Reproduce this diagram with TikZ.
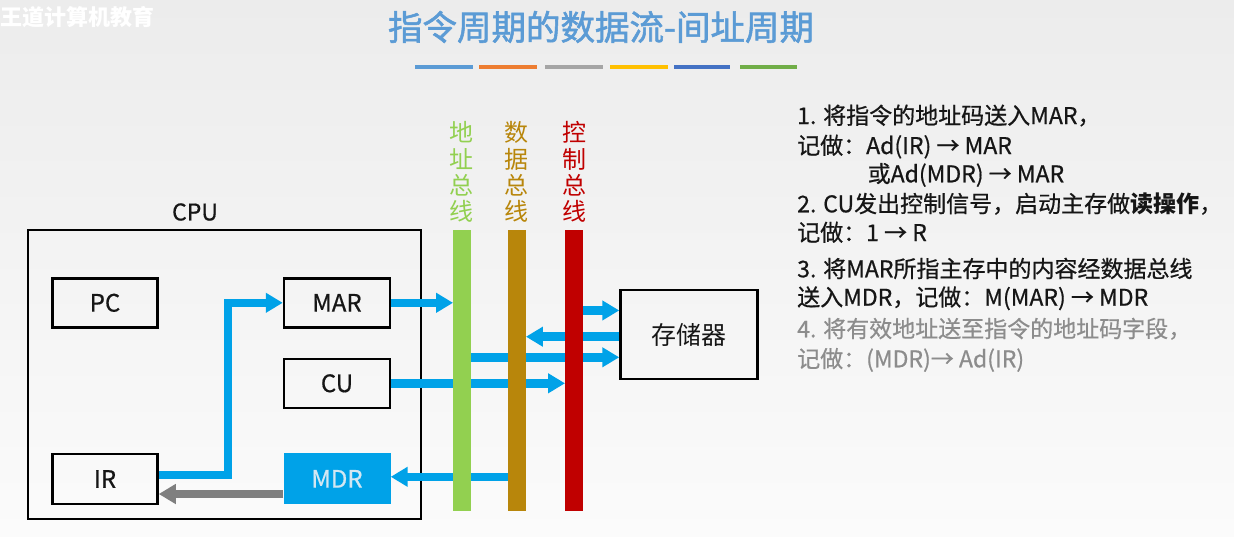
\documentclass[tikz,border=0pt]{standalone}
\usepackage{fontspec}
\setmainfont{Noto Sans CJK SC}
\newfontfamily\titlefont[FakeBold=1.6]{Noto Sans CJK SC}
\newfontfamily\bodyfont[FakeBold=0.6]{Noto Sans CJK SC}
\usetikzlibrary{arrows.meta,calc}
\definecolor{arrowblue}{HTML}{00A2E8}
\definecolor{titleblue}{HTML}{5B9BD5}
\definecolor{busgreen}{HTML}{92D050}
\definecolor{busbrown}{HTML}{B8860B}
\definecolor{busred}{HTML}{C00000}
\definecolor{textdark}{HTML}{161616}
\definecolor{textgray}{HTML}{8C8C8C}
\definecolor{flowgray}{HTML}{7F7F7F}
\definecolor{mdrtext}{HTML}{D3E7F2}
\definecolor{bgtop}{HTML}{ECECEC}
\definecolor{bgbot}{HTML}{FBFBFB}
\definecolor{ulblue}{HTML}{5B9BD5}
\definecolor{ulorange}{HTML}{ED7D31}
\definecolor{ulgray}{HTML}{A5A5A5}
\definecolor{ulyellow}{HTML}{FFC000}
\definecolor{uldblue}{HTML}{4472C4}
\definecolor{ulgreen}{HTML}{70AD47}
\tikzset{
  reg/.style={draw=black, line width=2.5pt, minimum width=105pt, minimum height=49pt,
    inner sep=0pt, font=\bodyfont\fontsize{24}{28}\selectfont, text=textdark},
  flow/.style={line width=8.5pt, draw=arrowblue, line cap=butt, miter limit=10,
    -{Triangle[length=17pt,width=19pt]}},
  grayflow/.style={flow, draw=flowgray},
  txt/.style={anchor=base west, inner sep=0pt, font=\bodyfont\fontsize{23}{27}\selectfont, text=textdark},
  graytxt/.style={txt, text=textgray},
  busbar/.style={draw=none, minimum width=17.5pt, minimum height=281pt, inner sep=0pt},
  buslabel/.style={align=center, inner sep=0pt, font=\fontsize{24}{26.3}\selectfont},
  ul/.style={line width=4.5pt}
}
\begin{document}
\begin{tikzpicture}[x=1pt,y=-1pt]
\shade[top color=bgtop, bottom color=bgbot] (0,0) rectangle (1234,536);
\useasboundingbox (0,0) rectangle (1234,536);

% watermark and title
\node[anchor=west, inner sep=0pt, text=white, font=\fontsize{22}{24}\selectfont\bfseries] (wm) at (0,17) {王道计算机教育};
\node[inner sep=0pt, text=titleblue, font=\titlefont\fontsize{34.5}{38}\selectfont] (title) at (601,27) {指令周期的数据流-间址周期};
\draw[ul, ulblue]   (415,67) -- (473,67);
\draw[ul, ulorange] (479,67) -- (537,67);
\draw[ul, ulgray]   (545,67) -- (603,67);
\draw[ul, ulyellow] (610,67) -- (668,67);
\draw[ul, uldblue]  (674,67) -- (730,67);
\draw[ul, ulgreen]  (740,67) -- (797,67);

% CPU
\node[draw=black, line width=2.5pt, minimum width=393pt, minimum height=289pt, inner sep=0pt] (cpu) at (224.5,374.5) {};
\node[inner sep=0pt, font=\bodyfont\fontsize{23}{26}\selectfont, text=textdark] (cpulabel) at (195,212) {CPU};
\node[reg] (pc)  at (105,302.8) {PC};
\node[reg, minimum width=106pt] (mar) at (337,302.8) {MAR};
\node[reg, minimum width=106pt] (cu)  at (337,383.3) {CU};
\node[reg, minimum height=50pt] (ir)  at (105,479) {IR};
\node[draw=none, fill=arrowblue, minimum width=107pt, minimum height=51pt, inner sep=0pt,
      font=\bodyfont\fontsize{24}{28}\selectfont, text=mdrtext] (mdr) at (337,478.8) {MDR};

% memory
\node[draw=black, line width=2.5pt, minimum width=137pt, minimum height=89pt, inner sep=0pt,
      font=\fontsize{25}{28}\selectfont, text=textdark] (mem) at (689,334.5) {存储器};

% buses (positions)
\node[busbar] (ab) at (462,370.5) {};
\node[busbar] (db) at (517,370.5) {};
\node[busbar] (cb) at (574,370.5) {};

% flows (drawn below buses)
\draw[flow] ([yshift=4pt]ir.east) -- ++(69,0) |- (mar.west);
\draw[grayflow] ([yshift=-15.2pt]mdr.west) -- ([yshift=-15.2pt]mdr.west -| ir.east);
\draw[flow] (mar.east) -- (mar.east -| ab.west);
\draw[flow] ([yshift=-21.7pt]mem.north west -| cb.center) -- ([yshift=-21.7pt]mem.north west);
\draw[flow] ([yshift=-2.2pt]mem.west) -- ([yshift=-2.2pt]mem.west -| db.east);
\draw[flow] ([yshift=-22.8pt]mem.west -| ab.center) -- ([yshift=-22.8pt]mem.west);
\draw[flow] (cu.east) -- (cu.east -| cb.west);
\draw[flow] ([yshift=2pt]mdr.east -| db.center) -- ([yshift=2pt]mdr.east);

% bus bars on top
\fill[busgreen] (ab.north west) rectangle (ab.south east);
\fill[busbrown] (db.north west) rectangle (db.south east);
\fill[busred]   (cb.north west) rectangle (cb.south east);

\node[buslabel, text=busgreen] (abl) at (461,172) {地\\址\\总\\线};
\node[buslabel, text=busbrown] (dbl) at (516,172) {数\\据\\总\\线};
\node[buslabel, text=busred]   (cbl) at (574,172) {控\\制\\总\\线};

% explanation text
\node[txt] (t1) at (797,124) {1. 将指令的地址码送入MAR，};
\node[txt] (t2) at (797,154) {记做：Ad(IR) → MAR};
\node[txt] (t3) at (867.5,182.3) {或Ad(MDR) → MAR};
\node[txt] (t4) at (797,212.3) {2. CU发出控制信号，启动主存做{\normalfont\bfseries 读操作}，};
\node[txt] (t5) at (797,241) {记做：1 → R};
\node[txt] (t6) at (797,277.3) {3. 将MAR所指主存中的内容经数据总线};
\node[txt] (t7) at (797,305.7) {送入MDR，记做：M(MAR) → MDR};
\node[graytxt] (t8) at (797,337.3) {4. 将有效地址送至指令的地址码字段，};
\node[graytxt] (t9) at (797,367.3) {记做：(MDR)→ Ad(IR)};
\end{tikzpicture}
\end{document}
